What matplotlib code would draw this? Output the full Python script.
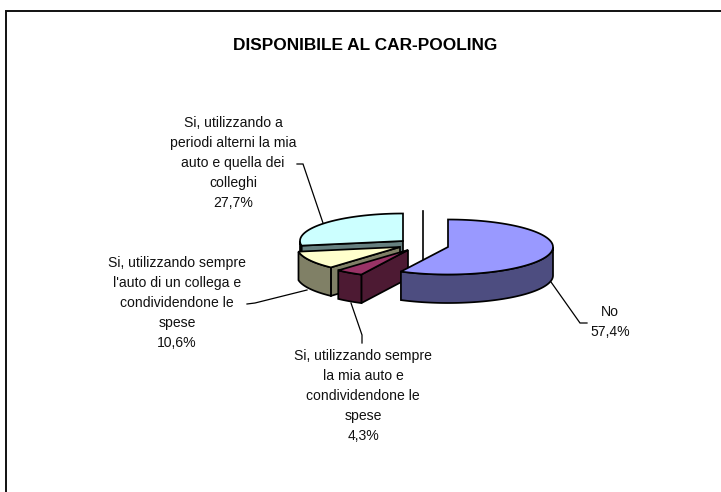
import numpy as np
import matplotlib
matplotlib.use("Agg")
import matplotlib.pyplot as plt
from matplotlib.patches import Polygon

categories = ["No",
              "Si, utilizzando sempre\nla mia auto e\ncondividendone le\nspese",
              "Si, utilizzando sempre\nl'auto di un collega e\ncondividendone le\nspese",
              "Si, utilizzando a\nperiodi alterni la mia\nauto e quella dei\ncolleghi"]
values = [57.4, 4.3, 10.6, 27.7]
value_labels = ["57,4%", "4,3%", "10,6%", "27,7%"]
top_colors = ["#9999FF", "#993366", "#FFFFCC", "#CCFFFF"]
side_colors = ["#4D4D80", "#4D1A33", "#808066", "#668080"]
centers = [(448, 247), (408, 250), (400, 247), (403, 241)]
radii_x = [105, 104, 103, 103]
label_pos = [(610, 322), (363, 396), (177, 303), (233, 163)]
leaders = [[(551, 282), (580, 323), (587, 323)],
           [(351, 303), (362, 335), (362, 343)],
           [(307, 290), (255, 303), (247, 304)],
           [(323, 223), (303, 164), (297, 164)]]
RY, DEPTH = 27.5, 28.5

plt.rcParams["font.family"] = ["Liberation Sans", "DejaVu Sans"]
fig = plt.figure(figsize=(7.21, 4.92), dpi=100)
ax = fig.add_axes([0, 0, 1, 1])
ax.set_xlim(0, 721); ax.set_ylim(492, 0); ax.axis("off")


def rim(c, rx, a0, a1):
    t = np.radians(np.linspace(a0, a1, 80))
    return np.column_stack([c[0] + rx*np.sin(t), c[1] - RY*np.cos(t)])


def poly(p, fc, z):
    ax.add_patch(Polygon(p, closed=True, fc=fc, ec="black", lw=1.25, joinstyle="miter", zorder=z))


# frame
ax.plot([5.5, 5.5, 721], [492, 11, 11], color="#111111", lw=1.4, zorder=1, solid_joinstyle="miter")

edges = np.concatenate([[0], np.cumsum(values)]) / sum(values) * 360
order = [3, 2, 1, 0]
for z, i in enumerate(order):
    a0, a1 = edges[i], edges[i+1]
    c = np.array(centers[i], float)
    rx = radii_x[i]
    base = 10 + z*3
    down = np.array([0, DEPTH])
    rim_start = rim(c, rx, a0, a0)[0]
    if a0 > 90:  # cut face at the start of the slice faces the viewer
        poly([c, rim_start, rim_start + down, c + down], side_colors[i], base)
    v0, v1 = max(a0, 90), min(a1, 270)
    if v1 > v0:
        r = rim(c, rx, v0, v1)
        poly(np.vstack([r, (r + down)[::-1]]), side_colors[i], base + 1)
    poly(np.vstack([[c], rim(c, rx, a0, a1)]), top_colors[i], base + 2)

# stray vertical line seen behind the pie
ax.plot([423, 423], [211, 260], color="black", lw=1.2, zorder=5)

for seg in leaders:
    ax.plot(*zip(*seg), color="black", lw=0.9, zorder=6, solid_joinstyle="miter")

for cat, val, pos in zip(categories, value_labels, label_pos):
    ax.text(pos[0], pos[1], cat + "\n" + val, ha="center", va="center",
            fontsize=10.1, linespacing=1.56, color="#111111", zorder=30)

ax.text(365, 45, "DISPONIBILE AL CAR-POOLING", ha="center", va="center",
        fontsize=12.4, fontweight="bold", color="black", zorder=30)

fig.savefig("out.png", dpi=100)
